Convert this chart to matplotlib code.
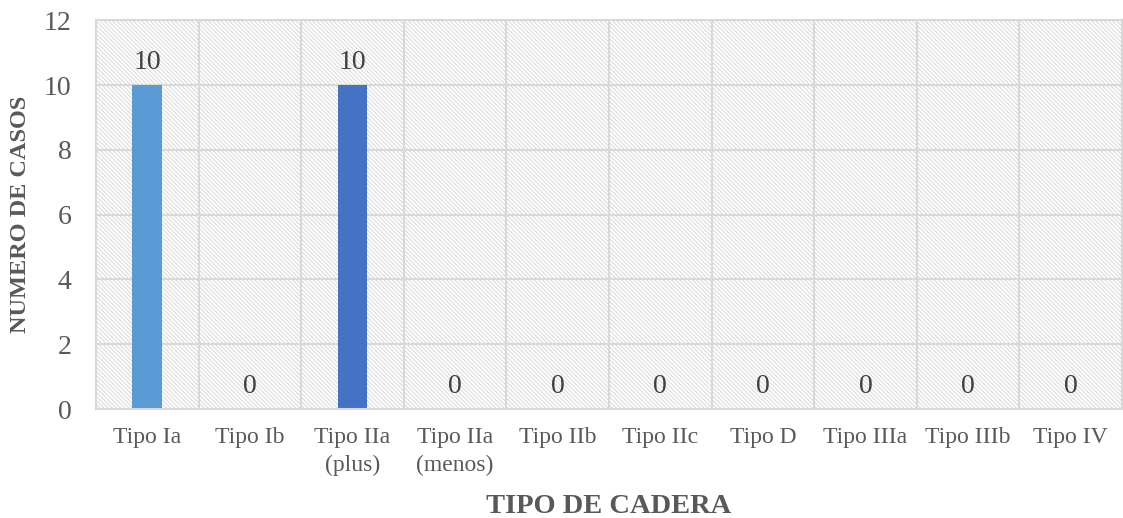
import matplotlib
matplotlib.use("Agg")
import matplotlib.pyplot as plt
from matplotlib.patches import Rectangle

categories = ["Tipo Ia", "Tipo Ib", "Tipo IIa\n(plus)", "Tipo IIa\n(menos)", "Tipo IIb",
              "Tipo IIc", "Tipo D", "Tipo IIIa", "Tipo IIIb", "Tipo IV"]
casos = [10, 0, 10, 0, 0, 0, 0, 0, 0, 0]
bar_colors = ["#5B9BD5", "#5B9BD5", "#4472C4", "#4472C4", "#4472C4",
              "#4472C4", "#4472C4", "#4472C4", "#4472C4", "#4472C4"]
y_ticks = [0, 2, 4, 6, 8, 10, 12]

plt.rcParams["font.family"] = ["Liberation Serif", "DejaVu Serif"]
plt.rcParams["hatch.linewidth"] = 0.7

fig = plt.figure(figsize=(11.23, 5.18), dpi=100)
ax = fig.add_axes([0.0855, 0.2104, 0.9135, 0.7506])

grid_c = "#D9D9D9"
# hatched plot-area background
bg = Rectangle((0, 0), 1, 1, transform=ax.transAxes, facecolor="white",
               edgecolor="#D8D8D8", hatch="\\" * 8, linewidth=0, zorder=0)
ax.add_patch(bg)

x = list(range(len(categories)))
ax.bar(x, casos, width=0.29, color=bar_colors, zorder=3)

for xi, v in zip(x, casos):
    ax.annotate(str(v), (xi, v), xytext=(0, 7.5), textcoords="offset points",
                ha="center", va="bottom", fontsize=20, color="#404040", zorder=4)

ax.set_xlim(-0.5, len(categories) - 0.5)
ax.set_ylim(0, 12)
ax.set_yticks(y_ticks)
ax.set_xticks(x)
ax.set_xticklabels(categories, fontsize=17, color="#595959", linespacing=1.4)
ax.tick_params(axis="y", labelsize=20, labelcolor="#595959", length=0, pad=17.5)
ax.tick_params(axis="x", length=0, pad=13)

# grid lines
for gy in y_ticks[1:]:
    ax.axhline(gy, color=grid_c, linewidth=1.5, zorder=1)
for gx in [i + 0.5 for i in range(len(categories) - 1)]:
    ax.axvline(gx, color=grid_c, linewidth=1.5, zorder=1)

for side in ["left", "top", "right", "bottom"]:
    ax.spines[side].set_color(grid_c)
    ax.spines[side].set_linewidth(1.5)
ax.spines["bottom"].set_zorder(5)

ax.set_xlabel("TIPO DE CADERA", fontsize=20.5, fontweight="bold", color="#595959", labelpad=13)
ax.set_ylabel("NUMERO DE CASOS", fontsize=17.5, fontweight="bold", color="#595959", labelpad=9)

fig.savefig("out.png", dpi=100)
